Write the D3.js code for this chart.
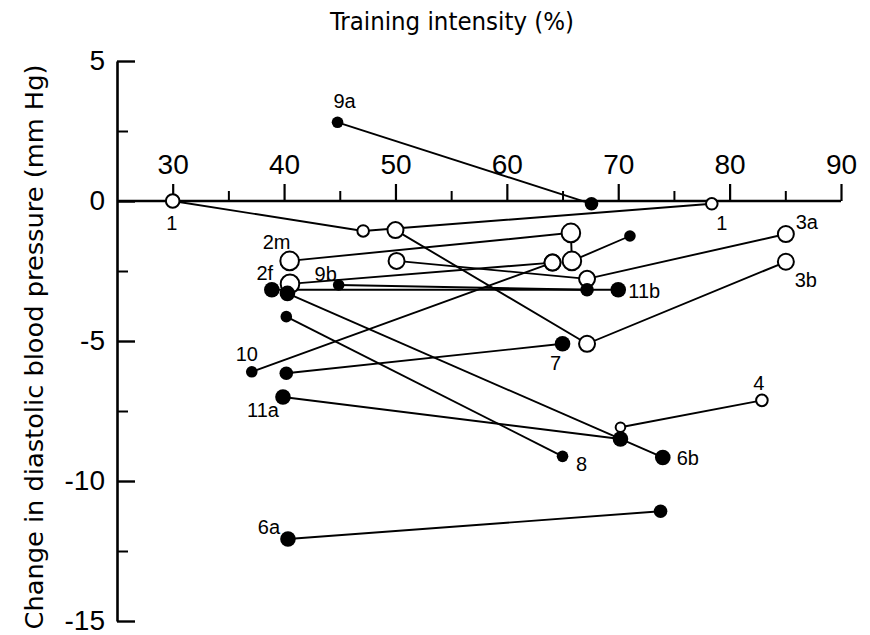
<!DOCTYPE html>
<html><head><meta charset="utf-8">
<script src="https://cdn.jsdelivr.net/npm/d3@7/dist/d3.min.js"></script>
<style>
body{margin:0;background:#fff}
svg{display:block}
</style>
</head><body>
<svg id="chart" width="870" height="635"></svg>
<script>
// ---------- data ----------
const seriesNames = ["1","9a","2m","2f","10","3a","3b","11b","9b","6b","8","7","11a","4","6a"];
const seriesX = [
  [30, 47.1, 78.4],
  [44.8, 67.6],
  [40.5, 65.75, 65.84, 71.05],
  [40.53, 64.1],
  [37.1, 64.1],
  [50.1, 67.2, 85.05],
  [50.0, 67.2, 85.05],
  [38.9, 70.0],
  [44.9, 67.2],
  [40.3, 74.0],
  [40.2, 65.0],
  [40.2, 65.0],
  [39.9, 70.2],
  [70.2, 82.9],
  [40.35, 73.8]
];
const seriesY = [
  [0, -1.07, -0.1],
  [2.81, -0.1],
  [-2.14, -1.14, -2.14, -1.25],
  [-2.96, -2.2],
  [-6.1, -2.2],
  [-2.14, -2.78, -1.18],
  [-1.04, -5.1, -2.17],
  [-3.17, -3.17],
  [-3.0, -3.17],
  [-3.3, -9.16],
  [-4.13, -9.12],
  [-6.15, -5.1],
  [-7.0, -8.5],
  [-8.08, -7.12],
  [-12.07, -11.08]
];
// 1 = filled circle, 0 = open circle
const seriesFilled = [
  [0,0,0],[1,1],[0,0,0,1],[0,0],[1,0],[0,0,0],[0,0,0],[1,1],[1,1],[1,1],[1,1],[1,1],[1,1],[0,0],[1,1]
];
// marker size class (1 smallest .. 5 largest)
const seriesSizeClass = [
  [3,2,2],[1,2],[5,5,5,1],[5,4],[1,4],[4,4,4],[4,4,4],[3,3],[1,2],[3,3],[1,1],[2,3],[3,3],[1,2],[3,2]
];
const xTicks = [30,40,50,60,70,80,90];
const xMinorTicks = [35,45,55,65,75,85];
const yTicks = [5,0,-5,-10,-15];
const yMinorTicks = [2.5,-2.5,-7.5,-12.5];
const labelTexts = ["1","1","9a","2m","2f","9b","10","11a","6a","7","8","6b","4","11b","3a","3b"];
// [series index, point index] each label belongs to
const labelAnchors = [[0,0],[0,2],[1,0],[2,0],[7,0],[8,0],[4,0],[12,0],[14,0],[11,1],[10,1],[9,1],[13,1],[7,1],[5,2],[6,2]];
const xTitle = "Training intensity (%)";
const yTitle = "Change in diastolic blood pressure (mm Hg)";

// ---------- layout ----------
const radiusByClass = {1:5.8, 2:6.8, 3:7.8, 4:9, 5:10.3};
const labelOffsets = [[-1,22],[10,19],[7,-21],[-13,-19],[-7,-17],[-13,-11],[-5,-18],[-20,13],[-19,-12],[-7,19],[19,8],[25,1],[-3,-17],[26,1],[21,-12],[20,18]];
const tickFont = "'Liberation Sans Narrow','Arial Narrow',sans-serif";
const titleFont = "'DejaVu Sans Condensed','DejaVu Sans',sans-serif";

const svg = d3.select("#chart");
const x = d3.scaleLinear().domain([25, 90]).range([117, 841]);
const y = d3.scaleLinear().domain([-15, 5]).range([621, 61]);

// axes
const xAxis = svg.append("g").attr("transform", `translate(0,${y(0)})`)
  .call(d3.axisTop(x).tickValues(xTicks).tickSize(17).tickSizeOuter(0).tickPadding(10).tickFormat(d => String(d)));
xAxis.select(".domain").attr("stroke-width", 2.6).attr("d", `M${x(25)},0H${x(90)}`);
xAxis.selectAll(".tick line").attr("stroke-width", 2.2);
xAxis.selectAll("text").attr("font-family", tickFont).attr("font-size", 28).attr("fill", "#000");

const xMinor = svg.append("g").attr("transform", `translate(0,${y(0)})`)
  .call(d3.axisTop(x).tickValues(xMinorTicks).tickSize(10).tickFormat(""));
xMinor.select(".domain").remove();
xMinor.selectAll(".tick line").attr("stroke-width", 2);

const yAxis = svg.append("g").attr("transform", `translate(${x(25)},0)`)
  .call(d3.axisRight(y).tickValues(yTicks).tickSize(18).tickSizeOuter(0).tickFormat(""));
yAxis.select(".domain").attr("stroke-width", 2.6);
yAxis.selectAll(".tick line").attr("stroke-width", 2.4);

const yMinor = svg.append("g").attr("transform", `translate(${x(25)},0)`)
  .call(d3.axisRight(y).tickValues(yMinorTicks).tickSize(11).tickFormat(""));
yMinor.select(".domain").remove();
yMinor.selectAll(".tick line").attr("stroke-width", 2);

const yLabels = svg.append("g").attr("transform", `translate(${x(25)},0)`)
  .call(d3.axisLeft(y).tickValues(yTicks).tickSize(0).tickPadding(12).tickFormat(d => String(d)));
yLabels.select(".domain").remove();
yLabels.selectAll("text").attr("font-family", tickFont).attr("font-size", 28).attr("fill", "#000");

// titles
svg.append("text").attr("x", 452).attr("y", 30).attr("text-anchor", "middle")
  .attr("font-family", titleFont).attr("font-size", 25)
  .attr("textLength", 244).attr("lengthAdjust", "spacingAndGlyphs").text(xTitle);
svg.append("text").attr("transform", "translate(43,347) rotate(-90)").attr("text-anchor", "middle")
  .attr("font-family", titleFont).attr("font-size", 25)
  .attr("textLength", 565).attr("lengthAdjust", "spacingAndGlyphs").text(yTitle);

// series
const series = seriesNames.map((name, i) => ({
  name,
  pts: seriesX[i].map((vx, j) => ({x: vx, y: seriesY[i][j], filled: seriesFilled[i][j], sc: seriesSizeClass[i][j]}))
}));
const line = d3.line().x(d => x(d.x)).y(d => y(d.y));
svg.append("g").selectAll("path").data(series).join("path")
  .attr("d", d => line(d.pts)).attr("fill", "none").attr("stroke", "#000").attr("stroke-width", 1.9);

const allPts = series.flatMap(s => s.pts);
svg.append("g").selectAll("circle").data(allPts).join("circle")
  .attr("cx", d => x(d.x)).attr("cy", d => y(d.y))
  .attr("r", d => d.filled ? radiusByClass[d.sc] : radiusByClass[d.sc] - 1)
  .attr("fill", d => d.filled ? "#000" : "#fff")
  .attr("stroke", "#000").attr("stroke-width", d => d.filled ? 0 : 2);

// point labels
svg.append("g").selectAll("text").data(labelTexts).join("text")
  .attr("x", (t, k) => x(seriesX[labelAnchors[k][0]][labelAnchors[k][1]]) + labelOffsets[k][0])
  .attr("y", (t, k) => y(seriesY[labelAnchors[k][0]][labelAnchors[k][1]]) + labelOffsets[k][1])
  .attr("text-anchor", "middle").attr("dominant-baseline", "central")
  .attr("font-family", tickFont).attr("font-size", 20).attr("fill", "#000")
  .text(t => t);
</script>
</body></html>
